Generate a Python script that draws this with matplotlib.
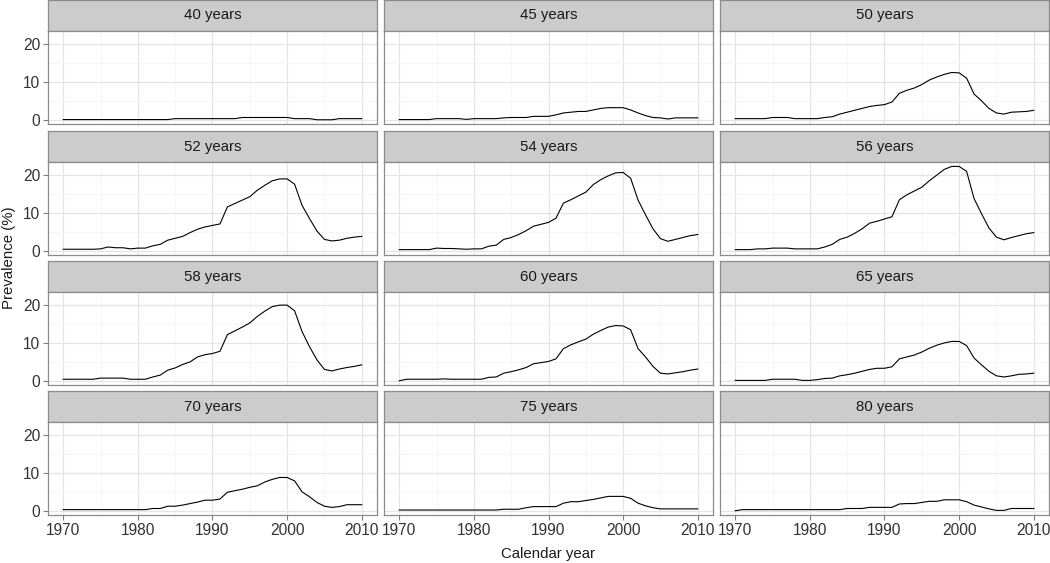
import numpy as np
import matplotlib
matplotlib.use("Agg")
from matplotlib import pyplot as plt

plt.rcParams['font.family'] = ['Liberation Sans', 'DejaVu Sans']

# 1970..2010
years = np.arange(1970, 2011)

ages = ["40 years", "45 years", "50 years",
        "52 years", "54 years", "56 years",
        "58 years", "60 years", "65 years",
        "70 years", "75 years", "80 years"]

prev_40 = [0.05]*15 + [0.3]*9 + [0.6]*7 + [0.3]*3 + [0.0]*3 + [0.3]*4
prev_45 = [0.05]*5 + [0.3]*4 + [0.1] + [0.3]*4 + [0.5, 0.6, 0.6, 0.6, 0.9, 0.9, 0.9,
           1.3, 1.8, 2.0, 2.2, 2.2, 2.6, 3.0, 3.2, 3.2, 3.2, 2.6, 1.8, 1.1, 0.6,
           0.5, 0.2, 0.5, 0.5, 0.5, 0.5]
prev_50 = [0.3]*5 + [0.6]*3 + [0.3]*4 + [0.6, 0.8, 1.5, 2.0, 2.5, 3.0, 3.5, 3.8,
           4.0, 4.7, 7.0, 7.8, 8.4, 9.3, 10.5, 11.3, 12.0, 12.5, 12.4, 11.0, 6.8,
           5.0, 3.0, 1.8, 1.5, 2.0, 2.1, 2.2, 2.5]
prev_52 = [0.4]*5 + [0.5, 1.0, 0.8, 0.8, 0.5, 0.7, 0.7, 1.3, 1.7, 2.8, 3.3, 3.8,
           4.8, 5.7, 6.3, 6.7, 7.1, 11.6, 12.5, 13.4, 14.3, 16.0, 17.3, 18.5,
           19.0, 19.0, 17.6, 12.0, 8.5, 5.2, 3.0, 2.6, 2.8, 3.3, 3.6, 3.8]
prev_54 = [0.3]*5 + [0.7, 0.6, 0.6, 0.5, 0.4, 0.5, 0.5, 1.2, 1.5, 3.0, 3.5, 4.3,
           5.3, 6.5, 7.0, 7.5, 8.6, 12.6, 13.5, 14.5, 15.5, 17.5, 18.8, 19.8,
           20.6, 20.7, 19.2, 13.4, 9.5, 5.8, 3.2, 2.5, 3.0, 3.5, 4.0, 4.3]
prev_56 = [0.3]*3 + [0.5]*2 + [0.7]*3 + [0.5]*4 + [1.0, 1.7, 3.0, 3.6, 4.6, 5.8,
           7.3, 7.8, 8.4, 9.0, 13.5, 14.8, 15.8, 16.8, 18.5, 20.0, 21.5, 22.3,
           22.3, 21.0, 13.8, 9.8, 6.0, 3.6, 2.9, 3.5, 4.0, 4.5, 4.8]
prev_58 = [0.4]*5 + [0.7]*4 + [0.4]*3 + [1.0, 1.5, 2.8, 3.4, 4.3, 5.0, 6.3, 6.9,
           7.2, 7.8, 12.2, 13.2, 14.2, 15.3, 17.0, 18.4, 19.6, 20.0, 20.0, 18.5,
           13.0, 9.0, 5.5, 3.0, 2.6, 3.1, 3.5, 3.8, 4.2]
prev_60 = [0.0] + [0.4]*5 + [0.5] + [0.4]*5 + [0.9, 1.0, 2.0, 2.4, 2.9, 3.5, 4.5,
           4.8, 5.1, 5.8, 8.5, 9.5, 10.3, 11.0, 12.3, 13.3, 14.2, 14.6, 14.5,
           13.5, 8.5, 6.3, 3.8, 2.0, 1.8, 2.1, 2.4, 2.8, 3.1]
prev_65 = [0.1]*5 + [0.4]*4 + [0.1]*2 + [0.3, 0.6, 0.7, 1.3, 1.6, 2.0, 2.5, 3.0,
           3.3, 3.3, 3.7, 5.8, 6.3, 6.8, 7.6, 8.6, 9.4, 10.0, 10.4, 10.4, 9.3,
           6.0, 4.2, 2.5, 1.3, 1.0, 1.3, 1.7, 1.8, 2.0]
prev_70 = [0.3]*12 + [0.6, 0.6, 1.2, 1.2, 1.5, 1.9, 2.3, 2.8, 2.8, 3.1, 4.9, 5.3,
           5.7, 6.2, 6.6, 7.6, 8.3, 8.8, 8.8, 7.9, 5.0, 3.7, 2.2, 1.2, 0.9, 1.1,
           1.6, 1.6, 1.6]
prev_75 = [0.2]*14 + [0.4]*3 + [0.8] + [1.1]*4 + [2.0, 2.4, 2.4, 2.7, 3.0, 3.4,
           3.8, 3.8, 3.8, 3.3, 2.0, 1.3, 0.8] + [0.5]*6
prev_80 = [0.0] + [0.3]*14 + [0.6]*3 + [0.9]*4 + [1.8, 1.9, 1.9, 2.2, 2.5, 2.5,
           2.9, 2.9, 2.9, 2.4, 1.5, 1.0, 0.5, 0.1, 0.1] + [0.6]*4

series = [prev_40, prev_45, prev_50, prev_52, prev_54, prev_56,
          prev_58, prev_60, prev_65, prev_70, prev_75, prev_80]

W, H = 1050, 563
fig = plt.figure(figsize=(W / 100, H / 100), dpi=100)

col_left = [48, 384, 720]
panel_w = 329
row_top = [0, 131, 261, 391]
strip_h = 31
panel_h = 93
border = "#8c8c8c"

for k, (name, vals) in enumerate(zip(ages, series)):
    r, c = divmod(k, 3)
    x0 = col_left[c]
    top = row_top[r]
    # strip
    sax = fig.add_axes([x0 / W, 1 - (top + strip_h) / H, panel_w / W, strip_h / H])
    sax.set_facecolor("#cccccc")
    sax.set_xticks([])
    sax.set_yticks([])
    for sp in sax.spines.values():
        sp.set_color(border)
        sp.set_linewidth(0.9)
    sax.text(0.5, 0.5, name, ha="center", va="center", fontsize=10.8,
             color="#1a1a1a", transform=sax.transAxes)

    # panel
    ax = fig.add_axes([x0 / W, 1 - (top + strip_h + panel_h) / H, panel_w / W, panel_h / H])
    ax.set_xlim(1967.96, 2012.04)
    ax.set_ylim(-1.12, 23.47)
    ax.set_xticks([1970, 1980, 1990, 2000, 2010])
    ax.set_xticks([1975, 1985, 1995, 2005], minor=True)
    ax.set_yticks([0, 10, 20])
    ax.set_yticks([5, 15], minor=True)
    ax.grid(True, which="major", color="#e5e5e5", linewidth=0.9)
    ax.grid(True, which="minor", color="#f5f5f5", linewidth=0.6)
    ax.set_axisbelow(True)
    for sp in ax.spines.values():
        sp.set_color(border)
        sp.set_linewidth(0.9)
    ax.tick_params(which="minor", length=0)
    ax.tick_params(which="major", length=3.5, color="#7f7f7f", width=0.8,
                   labelsize=11.2, labelcolor="#333333", pad=2)
    if c != 0:
        ax.tick_params(axis="y", which="major", length=0, labelleft=False)
    if r != 3:
        ax.tick_params(axis="x", which="major", length=0, labelbottom=False)

    ax.plot(years, vals, color="black", linewidth=0.8)

fig.text(9 / W, 1 - 258 / H, "Prevalence (%)", rotation=90, ha="center", va="center",
         fontsize=10.8, color="#1a1a1a")
fig.text(548 / W, 1 - 554 / H, "Calendar year", ha="center", va="center",
         fontsize=10.8, color="#1a1a1a")

fig.savefig("out.png", dpi=100)
